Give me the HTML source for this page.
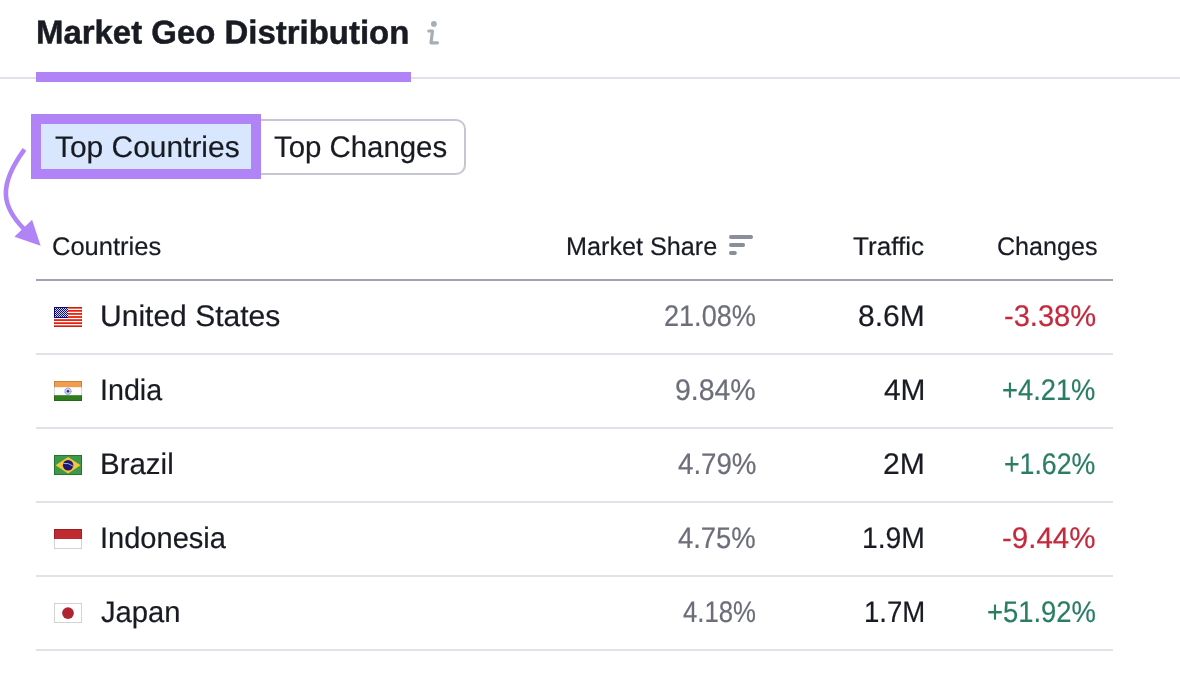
<!DOCTYPE html>
<html lang="en">
<head>
<meta charset="utf-8">
<title>Market Geo Distribution</title>
<style>
  html, body { margin: 0; padding: 0; background: #ffffff; }
  body {
    width: 1180px; height: 680px; position: relative; overflow: hidden;
    font-family: "Liberation Sans", sans-serif; color: #191b23;
  }
  .abs { position: absolute; white-space: nowrap; line-height: 1; margin: 0; -webkit-text-stroke: 0.2px currentColor; transform-origin: 0 50%; }

  /* section header */
  .rule { position: absolute; left: 0; top: 77px; width: 1180px; height: 2px; background: #e0e1e9; }
  .title { top: 15px; font-size: 33.1px; font-weight: 700; -webkit-text-stroke: 0.5px currentColor; }
  .title-bar { position: absolute; left: 36px; top: 72px; width: 375px; height: 10px; background: #b083f7; }
  .info { left: 425px; top: 18px; }

  /* pills */
  .pill-right { position: absolute; left: 240px; top: 119px; width: 226px; height: 56px; border: 2px solid #c4c7cf; border-radius: 10px; box-sizing: border-box; background: #fff; }
  .pill-left { position: absolute; left: 31px; top: 114px; width: 230px; height: 65px; box-sizing: border-box; border: 10px solid #b083f7; background: #d8e7fd; }
  .pill-text { font-size: 29.8px; top: 131px; }

  /* table */
  .th { font-size: 25.4px; top: 233px; }
  .hline { position: absolute; left: 36px; width: 1077px; height: 2px; background: #a1a3b1; top: 279px; }
  .row { position: absolute; left: 0; width: 1180px; height: 74px; }
  .row::after { content: ""; position: absolute; left: 36px; width: 1077px; bottom: 0; height: 2px; background: #e0e1e9; }
  .row .abs { font-size: 29.8px; top: 19px; }
  .flag { position: absolute; left: 54px; top: 26px; width: 28px; height: 20px; display: block; }
  .share { color: #6c6e79; }
  .neg { color: #c4293d; }
  .pos { color: #2a7d63; }
</style>
</head>
<body>
  <div class="rule"></div>
  <h2 class="abs title" style="left:35.91px;transform:translateY(0.5px) scaleX(0.9956) rotate(0.03deg)">Market Geo Distribution</h2>
  <svg class="abs info" width="20" height="30" viewBox="425 18 20 30" aria-label="Info" role="img">
    <circle cx="433.9" cy="23.9" r="2.9" fill="#a8afb4"/>
    <polyline points="428.8,31 432.5,31 431,42.8 437.4,42.8" fill="none" stroke="#a8afb4" stroke-width="3.2" stroke-linecap="round" stroke-linejoin="round"/>
  </svg>
  <div class="title-bar"></div>

  <div class="pill-right"></div>
  <div class="pill-left"></div>
  <span class="abs pill-text" style="left:54.8px;transform:translateY(1.0px) scaleX(1.0041) rotate(0.03deg)">Top Countries</span>
  <span class="abs pill-text" style="left:274.3px;transform:translateY(1.0px) scaleX(0.9857) rotate(0.03deg)">Top Changes</span>

  <svg class="abs" style="left:0;top:140px" width="60" height="120" viewBox="0 140 60 120" aria-hidden="true">
    <path d="M24.5 149.3 C -2.6 186.1, 2.0 207, 24.5 229.5" fill="none" stroke="#b083f7" stroke-width="4.6"/>
    <path d="M40.6 245.7 L32.1 219.8 L14.4 236.7 Z" fill="#b083f7"/>
  </svg>

  <span class="abs th" style="left:52.2px;transform:translateY(1.0px) scaleX(1.0049) rotate(0.03deg)">Countries</span>
  <span class="abs th" style="left:565.62px;transform:translateY(1.0px) scaleX(0.9921) rotate(0.03deg)">Market Share</span>
  <svg class="abs" style="left:727px;top:233px" width="30" height="24" viewBox="727 233 30 24" aria-hidden="true">
    <g stroke="#8a8e9b" stroke-width="3.8" stroke-linecap="round">
      <line x1="730.9" y1="237" x2="751.1" y2="237"/>
      <line x1="730.9" y1="245" x2="743.2" y2="245"/>
      <line x1="730.9" y1="253" x2="734.9" y2="253"/>
    </g>
  </svg>
  <span class="abs th" style="left:853.0px;transform:translateY(1.0px) scaleX(1.0269) rotate(0.03deg)">Traffic</span>
  <span class="abs th" style="left:996.61px;transform:translateY(1.0px) scaleX(0.9886) rotate(0.03deg)">Changes</span>
  <div class="hline"></div>

  <div class="row" style="top:281px">
    <svg class="flag" viewBox="0 0 28 20" width="28" height="20" aria-hidden="true"><rect width="28" height="20" fill="#ffffff"/><rect x="0" y="-0.12" width="28" height="1.78" fill="#e6210d"/><rect x="0" y="2.96" width="28" height="1.78" fill="#e6210d"/><rect x="0" y="6.03" width="28" height="1.78" fill="#e6210d"/><rect x="0" y="9.11" width="28" height="1.78" fill="#e6210d"/><rect x="0" y="12.19" width="28" height="1.78" fill="#e6210d"/><rect x="0" y="15.26" width="28" height="1.78" fill="#e6210d"/><rect x="0" y="18.34" width="28" height="1.78" fill="#e6210d"/><rect x="0" y="0" width="14" height="11" fill="#0c0c86"/><defs><pattern id="us-stars" x="1" y="1" width="2" height="2" patternUnits="userSpaceOnUse"><circle cx="0.5" cy="0.5" r="0.52" fill="#ffffff"/><circle cx="1.5" cy="1.5" r="0.52" fill="#ffffff"/></pattern></defs><rect x="1" y="1" width="13" height="9" fill="url(#us-stars)"/><rect x="0.25" y="0.25" width="27.5" height="19.5" fill="none" stroke="#000" stroke-opacity="0.18" stroke-width="0.5"/></svg>
    <span class="abs name" style="left:99.88px;transform:translateY(1.0px) scaleX(1.008) rotate(0.03deg)">United States</span>
    <span class="abs share" style="left:664.09px;transform:translateY(1.0px) scaleX(0.909) rotate(0.03deg)">21.08%</span>
    <span class="abs traffic" style="left:858.49px;transform:translateY(1.0px) scaleX(1.006) rotate(0.03deg)">8.6M</span>
    <span class="abs chg neg" style="left:1004.02px;transform:translateY(1.0px) scaleX(0.9751) rotate(0.03deg)">-3.38%</span>
  </div>
  <div class="row" style="top:355px">
    <svg class="flag" viewBox="0 0 28 20" width="28" height="20" aria-hidden="true"><rect width="28" height="20" fill="#ffffff"/><rect width="28" height="6.2" fill="#f09d4d"/><rect y="14.2" width="28" height="5.8" fill="#2f7d1f"/><circle cx="14" cy="10.2" r="3.2" fill="#c9d2f0" stroke="#5a66b8" stroke-width="0.9" stroke-dasharray="0.9 0.7"/><circle cx="14" cy="10.2" r="1.2" fill="#1f2a86"/><rect x="0.4" y="0.4" width="27.2" height="19.2" fill="none" stroke="#000" stroke-opacity="0.2" stroke-width="0.8"/></svg>
    <span class="abs name" style="left:99.98px;transform:translateY(1.0px) scaleX(0.9613) rotate(0.03deg)">India</span>
    <span class="abs share" style="left:675.3px;transform:translateY(1.0px) scaleX(0.9549) rotate(0.03deg)">9.84%</span>
    <span class="abs traffic" style="left:883.6px;transform:translateY(1.0px) scaleX(1.0032) rotate(0.03deg)">4M</span>
    <span class="abs chg pos" style="left:1002.08px;transform:translateY(1.0px) scaleX(0.9164) rotate(0.03deg)">+4.21%</span>
  </div>
  <div class="row" style="top:429px">
    <svg class="flag" viewBox="0 0 28 20" width="28" height="20" aria-hidden="true"><rect width="28" height="20" fill="#3f984a"/><polygon points="1.6,10.2 14.1,2 26.6,10.2 14.1,18.4" fill="#f6c737"/><circle cx="14.1" cy="10.2" r="5.3" fill="#23166f"/><path d="M9.2 8.4 Q 14.5 7.6 19.2 11.2" fill="none" stroke="#a9c8e8" stroke-width="0.9"/><rect x="0.4" y="0.4" width="27.2" height="19.2" fill="none" stroke="#1f6f26" stroke-width="0.8"/></svg>
    <span class="abs name" style="left:99.92px;transform:translateY(1.0px) scaleX(0.9889) rotate(0.03deg)">Brazil</span>
    <span class="abs share" style="left:677.5px;transform:translateY(1.0px) scaleX(0.9286) rotate(0.03deg)">4.79%</span>
    <span class="abs traffic" style="left:883.29px;transform:translateY(1.0px) scaleX(1.0111) rotate(0.03deg)">2M</span>
    <span class="abs chg pos" style="left:1004.1px;transform:translateY(1.0px) scaleX(0.8965) rotate(0.03deg)">+1.62%</span>
  </div>
  <div class="row" style="top:503px">
    <svg class="flag" viewBox="0 0 28 20" width="28" height="20" aria-hidden="true"><rect width="28" height="20" fill="#ffffff"/><rect x="0.4" y="0.4" width="27.2" height="19.2" fill="none" stroke="#c9c9c9" stroke-width="0.8"/><rect width="28" height="10" fill="#be2b31"/><path d="M0.4 10 V0.4 H27.6 V10" fill="none" stroke="#961920" stroke-width="0.8"/></svg>
    <span class="abs name" style="left:99.95px;transform:translateY(1.0px) scaleX(0.9741) rotate(0.03deg)">Indonesia</span>
    <span class="abs share" style="left:678.25px;transform:translateY(1.0px) scaleX(0.9197) rotate(0.03deg)">4.75%</span>
    <span class="abs traffic" style="left:862.1px;transform:translateY(1.0px) scaleX(0.95) rotate(0.03deg)">1.9M</span>
    <span class="abs chg neg" style="left:1002.01px;transform:translateY(1.0px) scaleX(0.9901) rotate(0.03deg)">-9.44%</span>
  </div>
  <div class="row" style="top:577px">
    <svg class="flag" viewBox="0 0 28 20" width="28" height="20" aria-hidden="true"><rect width="28" height="20" fill="#ffffff"/><rect x="0.4" y="0.4" width="27.2" height="19.2" fill="none" stroke="#c9c9c9" stroke-width="0.8"/><circle cx="14" cy="10.1" r="5.9" fill="#ae2530"/></svg>
    <span class="abs name" style="left:100.75px;transform:translateY(1.0px) scaleX(0.9797) rotate(0.03deg)">Japan</span>
    <span class="abs share" style="left:683.0px;transform:translateY(1.0px) scaleX(0.8632) rotate(0.03deg)">4.18%</span>
    <span class="abs traffic" style="left:863.65px;transform:translateY(1.0px) scaleX(0.926) rotate(0.03deg)">1.7M</span>
    <span class="abs chg pos" style="left:986.58px;transform:translateY(1.0px) scaleX(0.9191) rotate(0.03deg)">+51.92%</span>
  </div>
</body>
</html>
